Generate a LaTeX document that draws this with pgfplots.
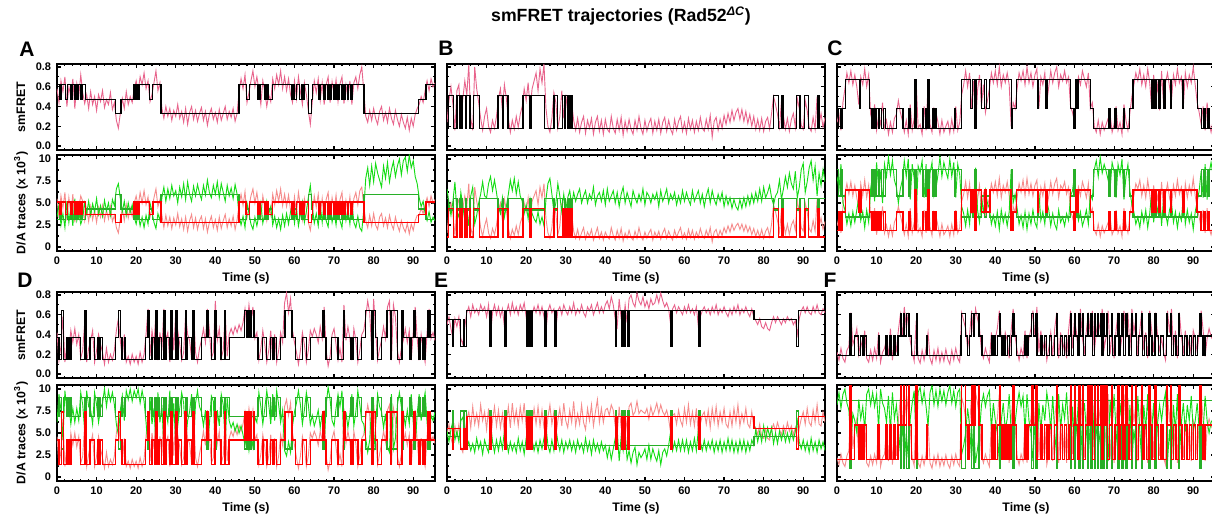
\documentclass[border=0pt]{standalone}
\usepackage{fontspec}
\setmainfont{Liberation Sans}
\usepackage{pgfplots}
\usepackage{pgfplotstable}
\pgfplotsset{compat=1.18}
\definecolor{pinkF}{RGB}{232,100,140}
\definecolor{greenN}{RGB}{20,220,20}
\definecolor{salmonN}{RGB}{245,140,140}
\definecolor{redS}{RGB}{255,0,0}
\definecolor{greenS}{RGB}{40,175,40}

% state -> level lookup for the HMM step fits (s = 0, 1, 2)
\newcommand\lv[3]{\thisrow{s}==0 ? #1 : (\thisrow{s}==1 ? #2 : #3)}

\pgfplotsset{
  trace/.style={scale only axis, anchor=north west, width=226.8pt,
    xmin=0, xmax=95.5, clip=true,
    axis line style={line width=1.1pt}, tick style={black, line width=0.7pt},
    tick align=inside, major tick length=2.6pt, minor tick length=1.4pt,
    xtick={0,10,20,30,40,50,60,70,80,90}, minor x tick num=4,
    ticklabel style={font=\bfseries\fontsize{6.6}{7}\selectfont},
    label style={font=\bfseries\fontsize{7.4}{8}\selectfont},
    ylabel style={at={(axis description cs:-0.0952,0.5)}, anchor=center},
    xlabel style={yshift=2pt},
  },
  fretax/.style={trace, height=51.6pt, ymin=-0.04, ymax=0.83,
    ytick={0,0.2,0.4,0.6,0.8}, minor y tick num=1, xticklabels={}},
  daax/.style={trace, height=57.6pt, ymin=-0.45, ymax=10.45,
    ytick={0,2.5,5,7.5,10}, minor y tick num=1,
    xticklabels={0,10,20,30,40,50,60,70,80,90}, xlabel={Time (s)}},
  fretL/.style={yticklabels={0.0,0.2,0.4,0.6,0.8}, ylabel={smFRET}},
  fretN/.style={yticklabels={}},
  daL/.style={yticklabels={0,2.5,5.0,7.5,10}, ylabel={D/A traces (x 10\textsuperscript{3})}},
  daN/.style={yticklabels={}},
}

% #1 x, #2 y of FRET axis, #3 y of D/A axis, #4 raw table, #5 step table,
% #6 FRET levels, #7 donor levels, #8 acceptor levels, #9 L (labels) or N
\newcommand\panel[9]{%
  \begin{axis}[fretax, fret#9, at={(#1,#2)}]
    \addplot[pinkF, line width=0.55pt] table[x expr=\coordindex/2, y expr=\thisrow{f}/100]{#4};
    \addplot[black, line width=0.8pt, const plot] table[x=t, y expr={\lv#6}]{#5};
  \end{axis}
  \begin{axis}[daax, da#9, at={(#1,#3)}]
    \addplot[salmonN, line width=0.55pt] table[x expr=\coordindex/2, y expr=\thisrow{a}/10]{#4};
    \addplot[greenN, line width=0.55pt] table[x expr=\coordindex/2, y expr=\thisrow{d}/10]{#4};
    \addplot[greenS, line width=0.8pt, const plot] table[x=t, y expr={\lv#7}]{#5};
    \addplot[redS, line width=0.9pt, const plot] table[x=t, y expr={\lv#8}]{#5};
  \end{axis}}

%% raw traces, one row every 0.5 s: FRET x100, donor and acceptor x10 (x 10^3 counts)
\pgfplotstableread{
f d a
58 34 55
44 48 33
66 25 58
55 38 44
70 22 62
40 52 30
60 28 56
50 45 38
68 24 60
38 55 28
63 30 48
50 40 45
72 26 58
54 33 52
43 50 30
52 38 44
38 52 29
55 36 46
42 49 31
50 40 42
36 55 28
52 37 45
45 47 34
56 35 47
39 53 30
47 41 42
42 50 32
54 36 46
37 54 29
44 47 36
26 66 22
18 72 16
33 55 32
48 40 43
38 52 30
55 36 48
42 50 33
50 39 44
44 48 35
58 34 50
66 26 58
55 38 46
70 24 62
62 34 50
74 22 64
58 36 48
66 26 57
45 50 34
52 40 44
64 28 56
76 21 66
56 38 46
64 30 54
38 56 36
28 68 22
40 52 36
30 66 24
38 55 34
26 70 21
36 58 33
30 64 25
42 50 38
28 68 23
35 57 32
24 72 20
38 54 34
22 74 18
34 60 30
40 52 37
27 69 22
36 58 33
25 71 20
33 61 30
39 54 35
26 70 21
35 59 32
21 76 17
32 62 28
38 56 35
27 70 22
34 60 31
24 74 19
37 56 34
26 72 21
33 62 30
40 52 37
27 70 22
35 58 32
29 67 24
38 55 35
25 71 20
33 60 31
55 36 48
68 25 60
58 35 47
72 22 63
44 50 33
54 38 46
66 26 58
76 20 66
60 34 50
70 24 62
57 36 46
42 50 32
66 27 58
55 38 45
40 52 30
52 38 44
45 46 36
68 25 60
58 35 48
72 22 64
62 32 52
76 20 66
58 36 47
70 24 60
56 38 46
68 26 59
52 40 42
44 49 34
66 27 57
48 44 38
70 24 62
55 37 46
42 51 31
64 28 55
52 40 43
36 56 28
22 70 19
45 46 36
66 27 58
54 38 45
68 24 60
46 48 36
64 28 55
42 52 32
62 30 54
70 23 62
44 48 34
65 28 56
52 40 42
67 25 59
45 48 35
63 30 54
70 22 62
43 50 33
62 30 53
48 44 38
66 26 57
42 51 31
64 28 55
70 22 62
58 35 48
72 22 64
80 18 68
56 42 46
30 78 30
24 90 22
36 70 36
26 92 24
38 74 38
28 95 25
22 84 20
35 76 34
40 68 38
26 92 24
34 78 33
24 96 22
38 74 36
28 88 26
22 97 20
36 80 34
27 92 25
20 100 18
32 82 30
24 98 22
18 102 17
29 86 27
16 104 15
28 90 26
20 98 19
32 80 30
38 72 36
42 56 36
50 46 44
44 52 38
56 38 48
66 30 56
56 40 46
68 28 58
60 34 50
64 30 54
}\rawA

\pgfplotstableread{
t s
0 0
0.6 1
1.0 0
2.2 1
2.6 0
3.4 1
3.8 0
4.4 1
4.8 0
5.2 1
5.5 0
6.0 1
6.3 0
7.2 1
14.8 2
16.2 1
19.4 0
19.7 1
20.1 0
20.4 1
20.7 0
23.4 1
24.2 0
26.3 2
46.0 0
47.8 1
48.6 0
50.8 1
51.3 0
52.4 1
52.8 0
53.3 1
54.5 0
59.2 1
59.6 0
60.0 1
60.5 0
61.3 1
61.7 0
62.0 1
62.4 0
63.5 2
64.3 1
64.6 0
66.2 1
66.6 0
67.3 1
67.7 0
68.3 1
68.6 0
69.0 1
69.4 0
69.8 1
70.1 0
70.5 1
70.8 0
71.1 1
71.4 0
71.8 1
72.1 0
72.5 1
72.9 0
73.4 1
73.7 0
74.1 1
74.5 0
77.6 2
91.3 1
93.2 0
95.5 0
}\stepA

\pgfplotstableread{
f d a
24 66 16
46 50 40
60 36 50
42 52 38
16 74 12
56 40 48
62 34 54
22 62 16
48 46 44
66 30 58
52 44 46
82 24 72
28 58 22
16 68 12
80 26 68
58 36 52
44 50 40
28 60 22
16 74 12
30 58 24
38 56 32
20 72 16
14 80 10
26 64 21
18 76 14
30 62 25
48 46 42
58 38 50
36 56 30
62 34 54
48 46 42
28 60 22
14 76 10
26 64 20
17 78 13
30 60 24
19 74 14
32 58 27
40 52 34
58 38 50
46 48 40
64 32 56
38 54 32
58 38 52
66 32 58
74 28 64
56 40 48
78 26 68
64 34 56
83 24 72
38 54 32
20 72 16
14 78 10
28 60 22
54 40 48
44 50 38
18 72 14
30 58 24
56 40 50
28 60 22
52 42 46
34 56 28
24 64 18
44 48 38
26 62 18
16 52 10
28 60 20
14 66 9
24 50 16
30 58 22
13 64 9
26 50 17
18 60 12
28 54 20
12 68 8
24 48 15
30 58 22
15 62 10
26 52 17
12 64 8
27 48 17
17 66 12
14 52 9
30 58 22
18 64 13
13 50 8
27 62 19
16 46 10
29 60 21
11 68 7
25 50 16
15 62 10
27 54 19
17 46 11
12 64 8
26 56 18
16 50 10
30 60 22
18 52 12
12 66 8
26 48 17
15 62 10
23 58 16
28 50 20
13 60 8
25 54 17
16 62 11
27 46 18
13 64 9
24 52 16
29 58 21
15 66 10
26 50 18
17 60 12
12 54 8
27 62 19
16 48 11
25 58 17
30 50 22
15 64 10
24 52 16
13 62 9
28 54 20
17 48 11
26 64 19
14 52 9
25 58 17
16 64 11
29 50 21
18 60 13
15 46 10
27 58 19
17 66 12
31 50 22
9 64 6
25 54 17
29 48 20
16 60 11
27 52 19
18 62 13
31 46 22
22 58 16
33 48 24
24 56 17
36 44 26
26 54 19
34 46 24
38 42 27
27 54 20
37 44 26
25 56 18
35 46 25
23 58 17
32 48 23
20 60 14
30 50 21
17 62 12
27 52 19
16 66 11
28 52 20
15 68 10
25 56 18
29 62 22
17 70 12
33 56 26
50 48 48
42 58 40
32 62 30
19 76 17
45 54 42
30 66 28
17 80 15
28 68 26
15 84 14
27 72 25
33 66 30
19 86 19
48 56 52
38 68 40
21 88 22
17 95 18
46 62 50
36 74 40
19 90 21
15 98 17
29 76 30
17 92 18
50 58 54
22 84 23
33 70 33
19 88 20
29 74 29
}\rawB

\pgfplotstableread{
t s
0 1
0.4 0
1.7 1
2.5 0
3.3 1
3.8 0
4.6 1
5.0 0
5.8 1
6.7 0
8.2 1
12.9 0
14.0 1
14.3 0
15.4 1
19.2 0
21.0 1
21.4 0
24.6 1
27.0 0
27.9 1
29.2 0
29.6 1
30.0 0
30.4 1
30.7 0
31.0 1
31.3 0
31.7 1
82.5 0
83.7 1
84.6 0
85.0 1
88.3 0
89.2 1
90.4 0
91.3 1
93.6 0
94.0 1
95.5 1
}\stepB

\pgfplotstableread{
f d a
24 80 24
32 66 34
16 94 16
44 50 46
58 42 60
74 26 72
64 38 60
76 24 74
62 40 58
72 28 70
60 42 56
42 56 44
70 30 72
62 40 58
78 22 76
60 42 56
72 28 70
32 66 34
24 82 26
42 52 44
16 96 14
30 68 32
22 84 22
44 50 46
18 94 16
26 80 25
12 102 12
24 82 24
14 98 13
28 76 28
32 68 34
46 50 46
34 66 36
26 76 26
14 98 14
26 80 26
12 100 12
42 54 44
16 94 16
28 78 28
66 34 66
18 92 17
22 84 22
12 98 12
40 56 42
16 94 16
62 36 64
22 84 23
14 96 13
38 58 40
34 66 36
24 82 24
12 102 12
26 80 26
14 96 14
20 86 18
25 78 24
13 100 12
27 80 26
15 96 14
40 56 42
16 94 16
24 82 22
52 46 52
62 38 60
76 24 74
60 42 56
74 26 72
38 62 38
66 34 66
18 90 18
56 42 54
72 28 70
40 58 40
62 38 60
34 64 36
46 50 46
58 44 56
74 26 72
64 36 62
76 24 74
62 40 58
80 20 78
60 42 56
72 28 70
64 38 62
74 24 74
62 40 58
20 88 20
44 50 46
38 60 40
58 44 56
74 26 72
66 36 62
76 22 76
62 40 58
80 20 78
64 38 60
74 26 72
60 42 58
72 28 70
78 22 76
38 62 38
70 30 68
62 40 58
74 26 72
44 52 44
60 42 58
76 24 74
64 38 60
74 26 72
80 20 78
60 42 56
72 28 70
66 34 66
76 24 74
64 38 60
70 30 68
40 58 40
34 64 34
24 82 24
52 46 50
70 30 68
62 40 58
76 24 74
68 32 66
60 42 56
74 26 72
38 60 38
44 54 44
20 88 20
14 98 14
26 80 26
12 102 12
24 84 24
16 94 16
22 86 22
28 76 28
32 66 34
14 96 14
22 86 20
40 56 42
16 94 16
24 82 24
12 100 12
42 54 44
26 80 26
16 94 16
34 64 36
50 48 50
62 40 58
74 26 72
66 34 66
78 22 76
62 40 58
72 28 70
60 42 56
78 22 76
64 38 60
38 62 38
72 28 70
46 50 46
62 40 58
36 64 38
76 24 74
42 56 42
64 38 60
74 26 72
60 42 56
46 50 46
72 28 70
62 40 58
78 22 76
64 38 60
70 30 68
40 58 40
74 26 72
60 42 56
72 28 70
64 38 60
80 20 78
62 40 58
44 52 44
34 64 34
22 86 22
40 56 42
16 94 16
44 54 44
24 84 22
14 96 14
26 82 24
18 92 18
}\rawC

\pgfplotstableread{
t s
0 2
0.4 1
0.8 2
1.3 1
2.2 0
5.6 1
6.0 0
8.2 1
8.8 2
9.2 1
9.6 2
10.0 1
10.4 2
10.8 1
11.3 2
11.8 1
12.2 2
15.0 1
16.7 2
18.2 1
18.5 2
19.7 0
20.0 2
21.6 1
21.9 2
22.4 1
22.7 2
23.0 0
23.3 2
24.2 1
24.5 2
24.8 1
25.1 2
29.7 1
30.0 2
31.5 0
33.8 1
34.3 0
34.9 2
35.3 0
36.5 1
37.3 0
37.7 1
38.6 0
44.0 2
44.4 1
45.4 0
50.6 1
50.9 0
52.8 1
53.1 0
59.0 1
59.8 2
60.1 1
60.4 0
60.7 1
61.0 0
64.0 1
64.8 2
68.7 1
69.0 2
70.2 1
70.5 2
72.4 1
72.7 2
73.9 1
74.8 0
79.5 1
79.8 0
80.3 1
80.6 0
81.3 1
81.6 0
82.6 1
82.9 0
84.2 1
84.5 0
87.3 1
87.6 0
91.0 1
92.0 2
92.6 1
93.0 2
93.6 1
94.0 2
95.5 2
}\stepC

\pgfplotstableread{
f d a
42 62 46
14 94 13
28 76 30
58 42 66
12 98 12
30 76 36
24 82 24
44 60 50
32 78 36
46 62 50
30 78 34
40 64 46
16 96 16
24 82 24
52 52 60
12 98 12
26 80 26
34 76 38
44 60 48
12 96 12
24 82 24
40 62 46
30 78 32
22 84 22
10 100 10
26 80 28
12 98 12
20 86 20
14 96 14
24 82 24
44 60 50
56 48 64
34 76 38
16 92 16
40 64 44
12 98 12
18 88 18
10 100 10
20 86 20
12 98 12
18 90 18
10 100 10
22 84 22
12 98 12
20 86 20
40 62 46
66 32 74
18 90 18
44 60 50
30 78 32
62 36 72
14 96 14
42 62 46
24 82 24
66 32 76
34 76 38
42 62 46
12 98 12
58 42 66
24 84 24
62 36 70
44 58 48
30 78 34
14 96 14
22 84 22
60 40 68
40 64 44
34 74 38
16 94 16
64 34 74
22 84 22
12 98 12
26 80 26
34 74 38
46 58 52
32 76 36
66 34 76
44 60 48
16 92 16
22 86 22
74 28 82
34 76 38
46 58 52
16 94 16
24 82 24
62 38 70
18 90 18
40 64 44
46 56 52
40 62 46
48 52 56
42 60 48
50 50 58
44 58 52
52 48 60
66 36 74
48 52 56
70 30 78
52 48 60
68 34 76
36 68 42
42 62 48
14 96 14
26 80 26
44 60 48
30 78 34
12 98 12
24 82 24
44 60 48
14 94 14
40 64 44
12 98 12
24 82 24
42 62 48
32 76 36
72 30 80
82 24 88
62 40 70
76 28 84
44 58 50
32 74 36
22 84 22
10 98 10
24 82 24
42 60 46
30 76 34
12 96 12
24 82 24
44 60 50
38 70 44
46 58 52
40 66 46
32 76 36
48 56 52
36 72 42
68 34 76
24 82 24
8 102 8
18 88 18
40 64 44
46 58 52
30 78 34
14 94 14
26 80 26
12 98 12
70 32 78
34 74 38
48 56 52
36 72 40
14 94 14
46 58 52
34 74 38
12 98 12
24 82 24
40 64 44
44 60 48
58 44 66
74 28 82
62 42 70
24 82 24
76 28 84
44 58 50
14 94 14
26 80 26
34 74 38
48 56 52
36 72 40
68 34 76
74 28 82
14 94 14
70 32 78
58 44 66
24 82 24
12 96 12
26 80 26
34 74 38
46 58 50
32 76 36
44 60 48
14 94 14
42 62 46
68 34 76
36 72 41
14 94 14
40 64 44
24 82 24
12 96 12
42 62 46
66 36 74
36 70 41
42 64 46
34 74 38
}\rawD

\pgfplotstableread{
t s
0 1
0.5 2
1.2 0
1.6 2
2.5 1
3.0 2
3.5 1
6.0 2
7.1 0
7.4 2
8.3 1
9.5 2
10.4 1
10.7 2
11.0 1
11.5 2
14.8 1
15.6 0
16.0 1
16.4 2
17.0 1
17.3 2
22.4 1
23.0 0
23.4 2
24.0 1
24.6 2
25.0 0
25.3 2
25.8 1
26.4 2
27.0 0
27.3 2
27.7 1
28.5 2
28.8 0
29.1 2
30.0 0
30.3 2
30.6 1
31.5 2
32.4 0
32.7 2
33.0 1
34.0 2
34.4 0
34.7 2
36.5 1
37.9 0
38.2 1
39.0 2
39.9 0
40.2 1
41.4 2
42.3 0
42.6 2
43.5 1
47.4 0
47.8 1
48.1 0
48.5 1
48.8 0
49.2 1
49.6 0
49.9 1
50.8 2
52.0 1
53.0 2
54.0 1
54.6 2
55.0 1
55.5 2
56.5 1
57.6 0
59.4 1
60.3 2
62.0 1
63.0 2
64.0 1
67.2 0
67.5 1
68.0 2
69.3 1
71.0 2
72.4 0
72.7 1
74.3 2
74.8 1
76.0 2
77.0 1
78.0 0
79.4 2
79.8 0
80.5 1
81.0 2
82.0 1
83.4 0
84.2 2
84.5 0
86.0 2
87.2 0
87.5 1
89.2 2
89.6 1
90.2 0
90.6 1
91.3 2
91.7 1
92.5 2
93.0 1
93.7 0
94.2 1
95.5 1
}\stepD

\pgfplotstableread{
f d a
50 52 48
58 40 60
46 54 44
36 64 36
56 42 58
48 52 46
58 40 60
36 64 34
30 68 28
48 50 48
62 34 66
68 40 74
58 30 56
70 38 80
62 28 60
66 44 72
60 32 58
70 40 82
64 26 64
68 42 74
58 34 54
70 28 78
40 62 42
62 40 64
70 28 80
60 42 58
68 30 76
58 44 56
66 32 72
48 52 48
62 42 62
70 28 80
60 40 56
72 30 84
62 38 62
68 28 76
60 44 58
70 30 80
64 40 64
72 26 84
58 44 56
44 58 42
50 50 52
60 42 60
68 30 78
62 40 60
70 28 80
60 42 58
68 32 76
58 44 56
44 58 44
64 36 68
70 28 82
62 42 60
66 30 74
46 56 46
64 40 64
68 30 78
60 42 58
70 28 84
64 40 64
60 32 56
68 42 76
62 30 62
72 40 86
60 28 58
66 42 72
62 32 60
70 38 82
62 28 62
58 44 54
68 30 78
64 40 64
70 26 82
60 42 58
66 30 74
72 38 88
62 28 62
68 40 78
62 30 62
70 36 76
74 22 78
66 34 70
78 20 82
70 32 76
56 44 58
48 54 48
76 18 80
56 46 56
50 30 50
70 52 72
52 20 54
76 30 80
80 16 84
72 28 70
68 34 74
82 14 86
74 28 72
70 22 76
78 26 74
68 32 72
74 20 78
66 36 66
76 20 80
70 32 70
72 24 76
80 18 84
72 30 72
82 14 82
74 28 74
68 32 70
72 24 76
66 36 66
50 52 50
66 30 70
70 40 72
62 30 60
68 42 76
64 30 64
60 42 58
68 30 78
62 42 62
70 28 82
62 40 60
66 30 74
60 44 58
68 30 78
48 54 48
58 40 60
64 30 70
68 42 74
62 30 60
66 40 76
60 32 56
68 42 78
62 28 62
70 40 80
60 30 58
66 42 74
62 28 62
68 40 78
62 30 60
58 44 56
66 30 74
60 42 58
68 28 78
62 40 62
70 28 82
60 42 58
66 30 72
62 42 62
68 28 78
62 40 60
58 30 56
66 42 74
58 36 58
54 54 56
50 40 48
56 52 60
48 40 46
46 58 44
52 42 54
46 56 44
44 46 42
52 56 54
58 38 60
52 50 52
58 38 62
54 52 54
50 42 48
56 52 58
52 40 50
58 50 62
54 40 52
56 52 58
50 42 48
54 52 56
40 64 40
56 40 56
64 32 66
68 42 74
62 30 60
68 40 78
62 28 62
60 44 58
68 30 76
62 40 62
70 28 82
62 42 60
60 32 58
66 40 74
62 30 62
}\rawE

\pgfplotstableread{
t s
0 1
1.4 2
1.7 1
3.4 2
4.2 1
4.5 2
5.0 0
10.9 2
11.2 0
14.6 2
14.9 0
20.2 2
20.5 0
20.7 2
21.0 0
21.2 2
21.5 0
24.7 2
25.0 0
27.2 2
27.5 0
42.6 2
42.9 0
44.2 2
44.5 0
44.8 2
45.1 0
45.7 2
46.0 0
56.6 2
56.9 0
63.6 2
63.9 0
77.6 1
88.3 2
88.8 0
95.5 0
}\stepE

\pgfplotstableread{
f d a
22 82 22
14 96 14
26 78 26
16 94 16
12 100 12
24 84 24
28 76 30
62 36 84
30 72 32
36 64 56
46 50 66
20 88 20
34 66 52
24 80 24
44 54 64
16 94 16
12 100 12
24 82 24
14 96 14
26 80 26
16 94 16
42 56 62
12 100 12
22 84 22
26 78 26
36 62 56
18 92 18
46 52 66
14 96 14
34 66 52
24 82 24
44 54 64
60 28 90
38 60 58
68 16 96
46 50 68
62 22 92
34 66 54
22 84 22
13 98 13
54 34 80
16 96 16
11 102 11
24 84 24
14 98 14
26 80 26
42 58 62
16 96 16
10 104 10
24 82 24
14 98 14
26 80 26
12 100 12
22 86 22
13 98 13
25 82 25
15 96 15
10 104 10
24 84 24
14 98 14
26 80 26
16 96 16
12 100 12
62 26 90
54 36 82
46 50 66
26 78 26
40 58 60
64 20 92
38 62 58
66 16 96
56 32 84
46 50 66
24 82 24
16 94 16
26 80 26
18 92 18
12 98 12
42 54 62
22 84 22
36 64 56
46 50 66
64 18 94
36 64 56
22 84 22
42 54 60
34 66 54
16 94 16
44 52 64
66 16 96
38 62 58
24 82 24
14 96 14
26 80 26
18 92 18
44 52 64
16 94 16
36 64 56
46 50 66
64 18 94
38 62 58
68 14 98
22 84 22
44 52 64
24 82 24
36 64 56
14 96 14
26 80 26
42 54 62
18 92 18
46 50 66
62 24 90
16 94 16
42 54 62
24 82 24
34 66 54
16 96 16
44 52 64
64 18 94
26 80 26
56 32 84
42 54 62
20 88 20
66 16 96
36 64 56
22 84 22
44 52 64
62 24 90
38 62 58
64 18 94
22 84 22
42 54 62
56 32 84
44 52 64
66 16 96
26 80 26
38 62 58
64 18 94
20 88 20
42 54 62
16 94 16
44 52 64
62 24 90
22 84 22
38 62 58
64 18 94
36 64 56
62 24 90
24 82 24
66 16 96
42 54 62
56 32 84
18 92 18
44 52 64
64 18 94
24 82 24
42 54 62
16 94 16
64 18 94
44 52 64
22 84 22
62 24 90
38 62 58
24 82 24
36 64 56
22 84 22
14 96 14
64 18 94
42 54 62
66 16 96
24 82 24
44 52 64
16 94 16
62 24 90
38 62 58
22 84 22
44 52 64
24 82 24
36 64 56
18 92 18
44 52 64
36 64 56
22 84 22
42 54 62
64 18 94
44 52 64
18 92 18
36 64 56
46 50 66
38 62 58
34 66 54
42 54 62
}\rawF

\pgfplotstableread{
t s
0 0
3.3 2
3.7 0
4.4 1
5.5 0
6.0 1
6.6 0
7.0 1
7.4 0
10.4 1
10.7 0
12.3 1
12.6 0
13.4 1
13.7 0
14.4 1
14.8 0
15.4 1
16.0 2
16.3 1
16.8 2
17.1 1
17.6 2
18.2 1
18.8 0
20.0 2
20.3 0
22.6 1
22.9 0
31.3 1
31.5 2
32.4 1
33.0 0
33.4 1
34.0 2
34.4 1
34.8 2
35.9 1
36.6 0
39.0 1
39.4 0
39.7 1
40.1 0
40.5 1
41.0 2
41.3 1
41.7 0
42.2 1
42.6 0
43.0 1
43.5 0
44.0 1
44.5 2
44.8 1
45.3 0
47.5 1
48.0 0
48.4 1
49.2 2
49.6 1
50.2 2
50.5 0
51.5 1
51.9 0
52.4 1
53.0 0
53.6 1
54.2 0
55.0 1
55.4 2
55.7 0
56.5 1
57.0 0
57.5 1
58.0 0
58.6 1
59.0 2
59.3 0
59.8 1
60.0 2
60.3 1
60.8 0
61.1 2
61.4 1
62.0 2
62.3 0
62.8 1
63.3 2
63.6 1
64.2 2
64.5 0
65.0 2
65.3 1
65.8 2
66.1 1
66.6 2
66.9 0
67.2 2
67.5 1
68.0 2
68.3 0
68.8 1
69.3 2
69.6 0
70.2 1
70.9 2
71.2 0
71.6 1
72.0 2
72.3 0
72.8 1
73.0 2
73.3 1
73.8 0
74.4 2
74.7 1
75.4 2
75.7 0
76.2 1
76.9 2
77.2 0
77.6 1
78.2 0
78.8 2
79.1 1
79.6 0
80.3 2
80.6 1
81.2 0
81.8 1
82.4 0
83.2 2
83.5 1
84.2 2
84.5 0
85.0 1
85.6 0
86.3 2
86.6 1
87.2 0
87.8 1
88.4 0
89.0 1
89.5 0
90.0 1
90.6 0
91.1 1
91.7 2
92.0 1
92.5 0
93.0 1
95.5 1
}\stepF

\begin{document}
\begin{tikzpicture}
\node[font=\bfseries\fontsize{10.6}{12}\selectfont] at (372.6pt,-9.6pt)
  {smFRET trajectories (Rad52\textsuperscript{\itshape ΔC})};

\panel{34.2pt}{-38.4pt}{-93pt}{\rawA}{\stepA}{{0.62}{0.47}{0.33}}{{3.1}{4.3}{6.0}}{{5.1}{3.7}{2.8}}{L}
\panel{268.2pt}{-38.4pt}{-93pt}{\rawB}{\stepB}{{0.51}{0.18}{0.18}}{{4.2}{5.5}{5.5}}{{4.4}{1.15}{1.15}}{N}
\panel{502.2pt}{-38.4pt}{-93pt}{\rawC}{\stepC}{{0.67}{0.38}{0.18}}{{3.4}{5.8}{8.8}}{{6.5}{4.0}{1.9}}{N}
\panel{34.2pt}{-175.2pt}{-231pt}{\rawD}{\stepD}{{0.64}{0.37}{0.15}}{{3.2}{6.9}{9.0}}{{7.4}{4.2}{1.45}}{L}
\panel{268.2pt}{-175.2pt}{-231pt}{\rawE}{\stepE}{{0.64}{0.55}{0.28}}{{3.6}{4.6}{7.5}}{{6.9}{5.5}{3.2}}{N}
\panel{502.2pt}{-175.2pt}{-231pt}{\rawF}{\stepF}{{0.19}{0.385}{0.61}}{{8.7}{8.7}{1.0}}{{2.0}{5.9}{10.6}}{N}

\foreach \l/\x/\y in {A/16.2/-29.7, B/267.6/-28.8, C/501/-28.8, D/15/-168, E/264.6/-168, F/498/-168}
  \node[font=\bfseries\fontsize{12.6}{14}\selectfont] at (\x pt,\y pt) {\l};

\pgfresetboundingbox
\useasboundingbox (0,0) rectangle (727.2pt,-309.6pt);
\end{tikzpicture}
\end{document}
